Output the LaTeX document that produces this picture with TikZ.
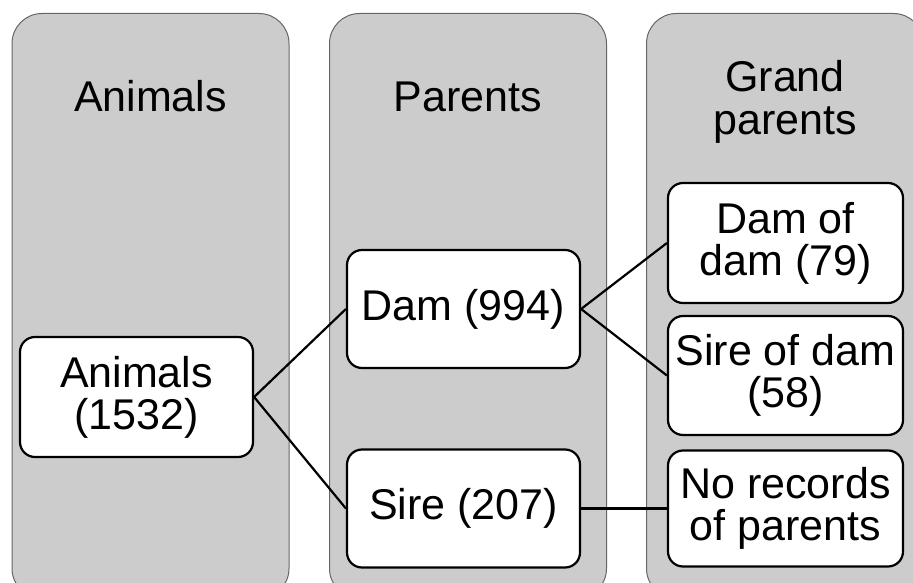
\documentclass[tikz,border=0pt]{standalone}
\usepackage{fontspec}
\setmainfont{Liberation Sans}
\begin{document}
\begin{tikzpicture}[x=1pt,y=-1pt,
    lane/.style={draw=black!60,fill=black!20,line width=1pt,rounded corners=30pt,
      minimum width=277pt,minimum height=585pt,anchor=north,inner sep=0pt},
    title/.style={align=center,font=\fontsize{43}{43}\selectfont,inner sep=0pt},
    item/.style={draw,fill=white,line width=2.2pt,rounded corners=15pt,
      minimum width=233pt,minimum height=118pt,align=center,
      font=\fontsize{43}{42}\selectfont,inner sep=0pt},
    link/.style={line width=2.2pt}]
      \path[use as bounding box,clip] (0,0) rectangle (913,583);
      % columns
      \draw
        (150.5,13) node[lane] (animalslane){}
        (468,13) node[lane] (parentslane){}
        (785,13) node[lane] (grandlane){};
      \draw
        (150.5,112) node[title,anchor=base] (animalstitle){Animals}
        (468,112) node[title,anchor=base] (parentstitle){Parents}
        (785,102) node[title] (grandtitle){Grand\\parents};
      % boxes
      \draw
        (136.5,397) node[item,minimum height=120pt] (animals){Animals\\(1532)}
        (463.5,309) node[item] (dam){Dam (994)}
        (463.5,508.5) node[item] (sire){Sire (207)}
        (785.5,243) node[item,minimum width=235pt,minimum height=120pt] (damofdam){Dam of\\dam (79)}
        (785.5,375.5) node[item,minimum width=235pt,minimum height=119pt] (sireofdam){Sire of dam\\(58)}
        (785.5,508.5) node[item,minimum width=235pt,minimum height=116pt] (norecords){No records\\of parents};
      \begin{scope}[link]
        \draw (animals.east) to (dam.west);
        \draw (animals.east) to (sire.west);
        \draw (dam.east) to (damofdam.west);
        \draw (dam.east) to (sireofdam.west);
        \draw[line width=3.5pt] (sire.east) to (norecords.west);
      \end{scope}
    \end{tikzpicture}
\end{document}
